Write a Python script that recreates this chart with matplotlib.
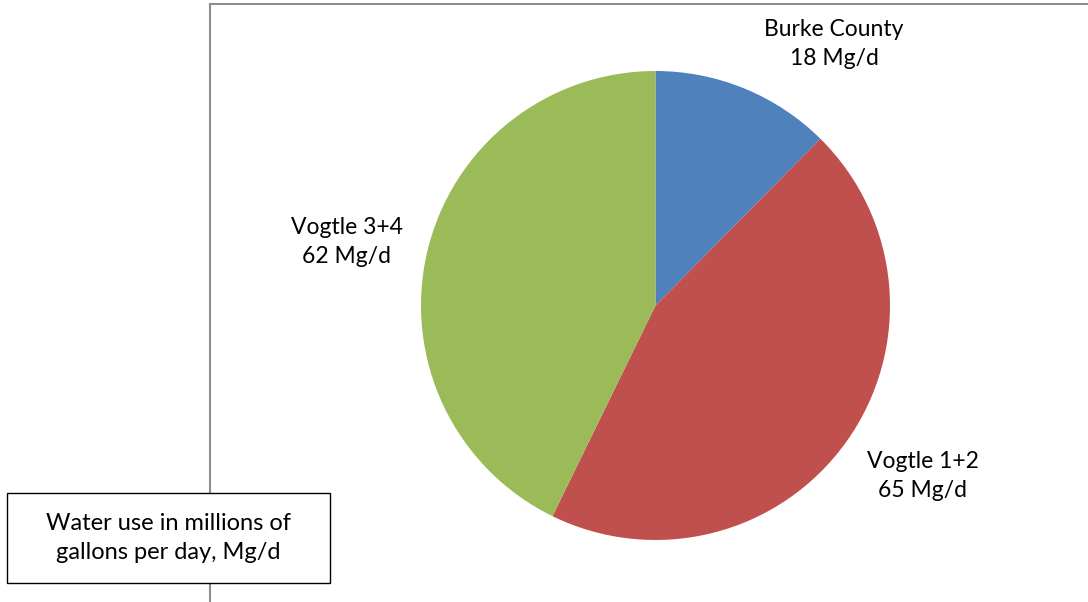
import matplotlib.pyplot as plt
from matplotlib.lines import Line2D
from matplotlib.patches import Rectangle

W, H = 1088, 602

sources = ["Burke County", "Vogtle 1+2", "Vogtle 3+4"]
usage_mgd = [18, 65, 62]
colors = ["#4F81BD", "#C0504D", "#9BBB59"]
label_pos = [(834, 44), (923, 476), (347, 242)]  # label centres, pixels from top-left

plt.rcParams["font.family"] = ["Lato", "DejaVu Sans"]


def fx(x):
    return x / W


def fy(y):
    return 1 - y / H


fig = plt.figure(figsize=(W / 100, H / 100), dpi=100)

# pie, centre (655.5, 305.5), radius 234.5 px
cx, cy, r = 655.5, 305.5, 234.5
ax = fig.add_axes([fx(cx - r), fy(cy + r), 2 * r / W, 2 * r / H])
ax.pie(usage_mgd, colors=colors, startangle=90, counterclock=False,
       radius=1, wedgeprops=dict(linewidth=0))
ax.set_xlim(-1, 1)
ax.set_ylim(-1, 1)
ax.set_aspect("auto")
ax.axis("off")

# chart frame (partly outside the picture)
frame_color = "#8C8C8C"
fig.add_artist(Line2D([fx(210), fx(210)], [fy(4), fy(H + 5)], color=frame_color, lw=1.5))
fig.add_artist(Line2D([fx(210), fx(W + 5)], [fy(4), fy(4)], color=frame_color, lw=1.5))

for name, value, (lx, ly) in zip(sources, usage_mgd, label_pos):
    fig.text(fx(lx), fy(ly), f"{name}\n{value} Mg/d", ha="center", va="center",
             fontsize=16.5, linespacing=1.5, color="black")

# note box
fig.add_artist(Rectangle((fx(7), fy(583)), fx(330) - fx(7), fy(493) - fy(583),
                         transform=fig.transFigure, facecolor="white",
                         edgecolor="black", lw=1.0, zorder=3))
fig.text(fx(168), fy(538), "Water use in millions of\ngallons per day, Mg/d",
         ha="center", va="center", fontsize=17, linespacing=1.45, zorder=4)

fig.savefig("out.png", dpi=100)
